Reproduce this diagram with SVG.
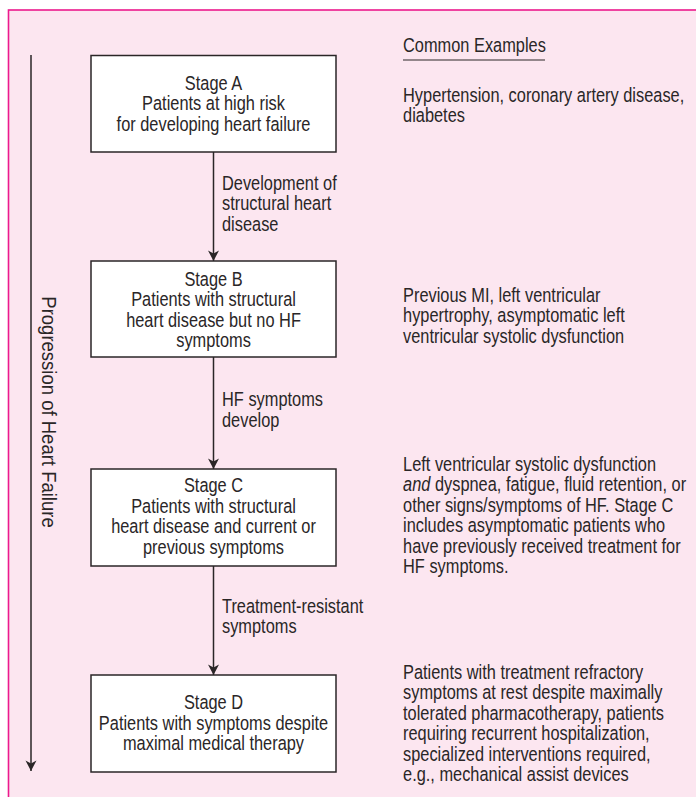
<svg xmlns="http://www.w3.org/2000/svg" width="696" height="797" viewBox="0 0 696 797">
  <style>
    .t { font-family: "Liberation Sans", Arial, sans-serif; font-size: 19.5px; fill: #2a2627; }
    .c { text-anchor: middle; }
    .box { fill: #ffffff; stroke: #2a2627; stroke-width: 1.5; }
    .ln { stroke: #2a2627; stroke-width: 1.5; fill: none; }
  </style>
  <defs>
    <marker id="head" markerUnits="userSpaceOnUse" markerWidth="14" markerHeight="14" viewBox="-12 -7 14 14" refX="0" refY="0" orient="auto">
      <path d="M0,0 L-10.5,-5.5 L-7.5,0 L-10.5,5.5 Z" fill="#2a2627"/>
    </marker>
  </defs>

  <!-- background panel -->
  <rect x="0" y="0" width="696" height="797" fill="#ffffff"/>
  <rect x="8.5" y="10" width="700" height="800" fill="#fce6f0" stroke="#ec1a8d" stroke-width="1.6"/>

  <!-- progression axis -->
  <g id="progression">
    <line class="ln" x1="31" y1="55" x2="31" y2="771" marker-end="url(#head)"/>
    <text class="t c" font-size="17" transform="translate(41.5,412) rotate(90) scale(0.95 1)">Progression of Heart Failure</text>
  </g>

  <!-- connectors between stages (text is condensed horizontally: x = 222 / 0.84) -->
  <g id="connectors">
    <line class="ln" x1="213.5" y1="152" x2="213.5" y2="261" marker-end="url(#head)"/>
    <line class="ln" x1="213.5" y1="357" x2="213.5" y2="469" marker-end="url(#head)"/>
    <line class="ln" x1="213.5" y1="566" x2="213.5" y2="675" marker-end="url(#head)"/>
    <g transform="scale(0.84 1)">
      <text class="t" x="264.3" y="190">Development of</text>
      <text class="t" x="264.3" y="210.5">structural heart</text>
      <text class="t" x="264.3" y="231">disease</text>
      <text class="t" x="264.3" y="406.5">HF symptoms</text>
      <text class="t" x="264.3" y="427">develop</text>
      <text class="t" x="264.3" y="613">Treatment-resistant</text>
      <text class="t" x="264.3" y="633.5">symptoms</text>
    </g>
  </g>

  <!-- stage boxes; labels centred at x = 213.5 (254.2 in condensed space) -->
  <g id="stageA">
    <rect class="box" x="91" y="55.5" width="245" height="96.5"/>
    <g transform="scale(0.84 1)">
      <text class="t c" x="254.2" y="90">Stage A</text>
      <text class="t c" x="254.2" y="110.5">Patients at high risk</text>
      <text class="t c" x="254.2" y="131">for developing heart failure</text>
    </g>
  </g>

  <g id="stageB">
    <rect class="box" x="91" y="261" width="245" height="96"/>
    <g transform="scale(0.84 1)">
      <text class="t c" x="254.2" y="286">Stage B</text>
      <text class="t c" x="254.2" y="306.5">Patients with structural</text>
      <text class="t c" x="254.2" y="327">heart disease but no HF</text>
      <text class="t c" x="254.2" y="347.5">symptoms</text>
    </g>
  </g>

  <g id="stageC">
    <rect class="box" x="91" y="469" width="245" height="97"/>
    <g transform="scale(0.84 1)">
      <text class="t c" x="254.2" y="492.5">Stage C</text>
      <text class="t c" x="254.2" y="513">Patients with structural</text>
      <text class="t c" x="254.2" y="533.5">heart disease and current or</text>
      <text class="t c" x="254.2" y="554">previous symptoms</text>
    </g>
  </g>

  <g id="stageD">
    <rect class="box" x="91" y="675" width="245" height="97"/>
    <g transform="scale(0.84 1)">
      <text class="t c" x="254.2" y="709.5">Stage D</text>
      <text class="t c" x="254.2" y="730">Patients with symptoms despite</text>
      <text class="t c" x="254.2" y="750.5">maximal medical therapy</text>
    </g>
  </g>

  <!-- examples column, left edge at x = 403 (479.8 in condensed space) -->
  <g id="examples">
    <line x1="403" y1="60" x2="545" y2="60" stroke="#2a2627" stroke-width="1.2"/>
    <g transform="scale(0.84 1)">
      <text class="t" x="479.8" y="52">Common Examples</text>

      <text class="t" x="479.8" y="102.5">Hypertension, coronary artery disease,</text>
      <text class="t" x="479.8" y="122">diabetes</text>

      <text class="t" x="479.8" y="302">Previous MI, left ventricular</text>
      <text class="t" x="479.8" y="322.5">hypertrophy, asymptomatic left</text>
      <text class="t" x="479.8" y="343">ventricular systolic dysfunction</text>

      <text class="t" x="479.8" y="471">Left ventricular systolic dysfunction</text>
      <text class="t" x="479.8" y="491.5"><tspan font-style="italic">and</tspan> dyspnea, fatigue, fluid retention, or</text>
      <text class="t" x="479.8" y="512">other signs/symptoms of HF. Stage C</text>
      <text class="t" x="479.8" y="532.5">includes asymptomatic patients who</text>
      <text class="t" x="479.8" y="553">have previously received treatment for</text>
      <text class="t" x="479.8" y="573.5">HF symptoms.</text>

      <text class="t" x="479.8" y="679">Patients with treatment refractory</text>
      <text class="t" x="479.8" y="699.5">symptoms at rest despite maximally</text>
      <text class="t" x="479.8" y="720">tolerated pharmacotherapy, patients</text>
      <text class="t" x="479.8" y="740.5">requiring recurrent hospitalization,</text>
      <text class="t" x="479.8" y="761">specialized interventions required,</text>
      <text class="t" x="479.8" y="781.5">e.g., mechanical assist devices</text>
    </g>
  </g>
</svg>
